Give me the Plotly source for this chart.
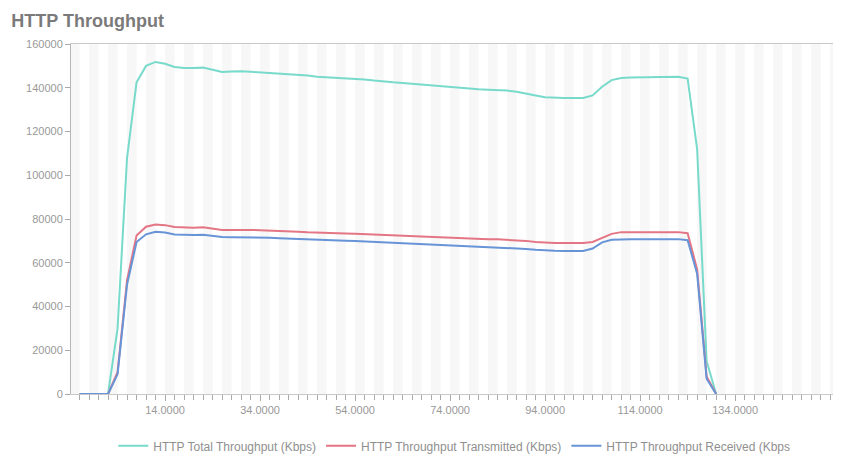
import plotly.graph_objects as go

# x positions (one sample every 2 units)
x_vals = list(range(-4, 132, 2))

total_kbps = [
    0, 0, 0, 0, 30000, 108000, 142500, 150000, 151800, 151000,
    149500, 149000, 149000, 149200, 148200, 147200, 147400, 147600, 147300, 147000,
    146800, 146600, 146300, 146000, 145600, 145000, 144800, 144600, 144400, 144200,
    143800, 143300, 142800, 142500, 142200, 141800, 141400, 141000, 140600, 140200,
    139900, 139600, 139300, 139100, 139000, 138700, 138200, 137500, 136500, 135700,
    135400, 135300, 135300, 135300, 136500, 140500, 143500, 144500, 144700, 144700,
    144800, 144800, 144900, 145000, 144200, 112000, 15000, 0,
]
transmitted_kbps = [
    0, 0, 0, 0, 10000, 52000, 72500, 76500, 77500, 77200,
    76300, 76000, 76000, 76200, 75500, 75000, 75000, 75100, 75000, 74900,
    74800, 74600, 74400, 74200, 73900, 73700, 73600, 73500, 73400, 73300,
    73100, 72900, 72700, 72500, 72300, 72200, 72000, 71800, 71600, 71400,
    71200, 71000, 70900, 70800, 70700, 70500, 70300, 70000, 69500, 69200,
    69000, 69000, 69000, 69000, 69500, 71500, 73200, 74000, 74000, 74000,
    74000, 74100, 74100, 74000, 73500, 57000, 8000, 0,
]
received_kbps = [
    0, 0, 0, 0, 9000, 50000, 69500, 73000, 74200, 73800,
    72900, 72700, 72700, 72800, 72200, 71800, 71700, 71700, 71600, 71500,
    71400, 71200, 71000, 70800, 70600, 70400, 70300, 70200, 70100, 70000,
    69800, 69600, 69400, 69200, 69000, 68800, 68600, 68400, 68200, 68000,
    67800, 67600, 67400, 67200, 67000, 66800, 66600, 66300, 65900, 65600,
    65500, 65400, 65400, 65400, 66500, 69300, 70500, 70800, 70800, 70800,
    70800, 70800, 70800, 70800, 70300, 55000, 7000, 0,
]

x_tick_vals = [14, 34, 54, 74, 94, 114, 134]
x_tick_text = ["14.0000", "34.0000", "54.0000", "74.0000", "94.0000", "114.0000", "134.0000"]
y_tick_vals = [0, 20000, 40000, 60000, 80000, 100000, 120000, 140000, 160000]
x_range = [-5.8, 154.6]

series = [
    ("HTTP Total Throughput (Kbps)", total_kbps, "#78dacb"),
    ("HTTP Throughput Transmitted (Kbps)", transmitted_kbps, "#e47585"),
    ("HTTP Throughput Received (Kbps", received_kbps, "#6794d6"),
]

fig = go.Figure()

# faint vertical stripes in the plot background
for xs in range(-6, 156, 4):
    fig.add_vrect(x0=xs, x1=xs + 2, fillcolor="#f7f7f7",
                  line_width=0, layer="below")

for name, vals, color in series:
    fig.add_trace(go.Scatter(x=x_vals, y=vals, mode="lines", name=name,
                             line=dict(color=color, width=2)))

# page body adds an 8px offset, so the figure is 8px smaller than the window
fig.update_layout(
    width=833, height=458,
    paper_bgcolor="white", plot_bgcolor="white",
    margin=dict(l=63, r=8, t=36, b=72),
    font=dict(family="Liberation Sans, Arial, sans-serif", size=11, color="#999999"),
    title=dict(text="<b>HTTP Throughput</b>", x=0.004, xanchor="left",
               y=0.972, yanchor="middle", pad=dict(l=0),
               font=dict(size=18, color="#7a7a7a")),
    showlegend=True,
    legend=dict(orientation="h", x=0.503, xanchor="center",
                yref="container", y=0.044, yanchor="middle",
                font=dict(size=12, color="#8f8f8f"), itemwidth=30,
                tracegroupgap=0),
)
fig.update_xaxes(
    range=x_range, showgrid=False, zeroline=False,
    showline=True, linecolor="#c8c8c8", linewidth=1, mirror=True,
    tickvals=x_tick_vals, ticktext=x_tick_text,
    ticks="outside", ticklen=6, tickcolor="#aaaaaa",
    minor=dict(ticks="outside", dtick=2, tick0=0, ticklen=5, tickcolor="#aaaaaa"),
)
fig.update_yaxes(
    range=[0, 160000], showgrid=False, zeroline=False,
    showline=True, linecolor="#b8b8b8", linewidth=1, mirror=True,
    tickvals=y_tick_vals, tickformat="d",
    ticks="outside", ticklen=5, tickcolor="#aaaaaa",
)

fig.write_html("out.html")
